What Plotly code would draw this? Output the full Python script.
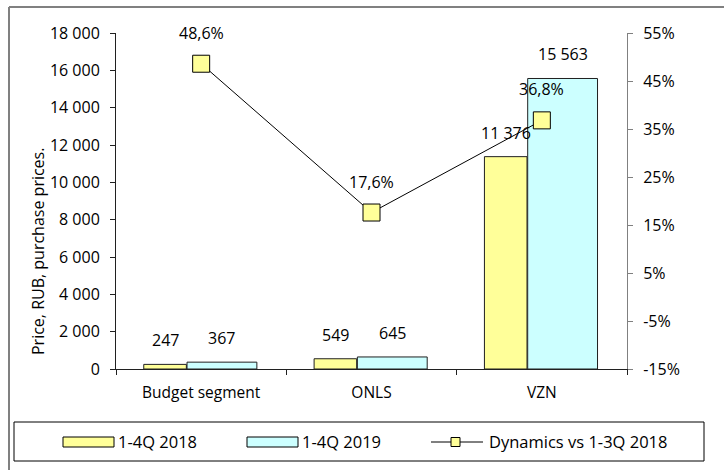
import plotly.graph_objects as go

categories = ["Budget segment", "ONLS", "VZN"]
price_2018 = [247, 549, 11376]
price_2019 = [367, 645, 15563]
dynamics_pct = [48.6, 17.6, 36.8]
left_ticks = [0, 2000, 4000, 6000, 8000, 10000, 12000, 14000, 16000, 18000]
right_ticks = [-15, -5, 5, 15, 25, 35, 45, 55]
series_names = ["1-4Q 2018", "1-4Q 2019", "Dynamics vs 1-3Q 2018"]

W, H = 724, 470
L, R, T, B = 116, 627, 33, 369
FONT = "Open Sans"

def px(xp):
    return (xp - L) / (R - L)

def py(yp):
    return (B - yp) / (B - T)

xs = list(range(len(categories)))
w18, o18 = 0.25, -0.337
w19, o19 = 0.41, -0.083

fig = go.Figure()
fig.add_trace(go.Bar(x=xs, y=price_2018, width=w18, offset=o18,
                     marker=dict(color="#FFFF99", line=dict(color="#202020", width=1)),
                     name=series_names[0], showlegend=False))
fig.add_trace(go.Bar(x=xs, y=price_2019, width=w19, offset=o19,
                     marker=dict(color="#CCFFFF", line=dict(color="#202020", width=1)),
                     name=series_names[1], showlegend=False))
fig.add_trace(go.Scatter(x=xs, y=dynamics_pct, yaxis="y2", mode="lines+markers",
                         line=dict(color="black", width=1),
                         marker=dict(symbol="square", size=17, color="#FFFF99",
                                     line=dict(color="black", width=1)),
                         name=series_names[2], showlegend=False))

ann = []
def fmt_int(v):
    return f"{v:,}".replace(",", " ")

for i in xs:
    ann.append(dict(x=i + o18 + w18 / 2, y=price_2018[i], xref="x", yref="y",
                    text=fmt_int(price_2018[i]), showarrow=False, yanchor="middle",
                    yshift=24, font=dict(family=FONT, size=16, color="black")))
    ann.append(dict(x=i + o19 + w19 / 2, y=price_2019[i], xref="x", yref="y",
                    text=fmt_int(price_2019[i]), showarrow=False, yanchor="middle",
                    yshift=24, font=dict(family=FONT, size=16, color="black")))
    ann.append(dict(x=i, y=dynamics_pct[i], xref="x", yref="y2",
                    text=f"{dynamics_pct[i]:.1f}%".replace(".", ","), showarrow=False,
                    yanchor="middle", yshift=31, font=dict(family=FONT, size=16, color="black")))

# y-axis title
ann.append(dict(x=px(38), y=py(252), xref="paper", yref="paper", text="Price, RUB, purchase prices.",
                textangle=-90, showarrow=False, xanchor="center", yanchor="middle",
                font=dict(family=FONT, size=16, color="black")))

# custom legend
shapes = []
shapes.append(dict(type="rect", xref="paper", yref="paper", x0=px(14), x1=px(704), y0=py(422), y1=py(461),
                   line=dict(color="black", width=1), fillcolor="white"))
shapes.append(dict(type="rect", xref="paper", yref="paper", x0=px(63), x1=px(114), y0=py(437), y1=py(447),
                   line=dict(color="black", width=1), fillcolor="#FFFF99"))
shapes.append(dict(type="rect", xref="paper", yref="paper", x0=px(247), x1=px(298), y0=py(437), y1=py(447),
                   line=dict(color="black", width=1), fillcolor="#CCFFFF"))
shapes.append(dict(type="line", xref="paper", yref="paper", x0=px(431), x1=px(483), y0=py(442), y1=py(442),
                   line=dict(color="black", width=1)))
shapes.append(dict(type="rect", xref="paper", yref="paper", x0=px(451), x1=px(460), y0=py(437.5), y1=py(446.5),
                   line=dict(color="black", width=1), fillcolor="#FFFF99"))
for xt, t in [(116, series_names[0]), (300, series_names[1]), (487, series_names[2])]:
    ann.append(dict(x=px(xt), y=py(442), xref="paper", yref="paper", text=t, showarrow=False,
                    xanchor="left", yanchor="middle", font=dict(family=FONT, size=16.5, color="black")))

# outer frame
shapes.append(dict(type="line", xref="paper", yref="paper", x0=px(9), x1=px(724), y0=py(7), y1=py(7),
                   line=dict(color="#808080", width=2)))
shapes.append(dict(type="line", xref="paper", yref="paper", x0=px(9), x1=px(9), y0=py(7), y1=py(470),
                   line=dict(color="#808080", width=2)))

fig.update_layout(
    width=W, height=H,
    margin=dict(l=L, r=W - R, t=T, b=H - B),
    paper_bgcolor="white", plot_bgcolor="white",
    separators=", ",
    showlegend=False,
    font=dict(family=FONT, size=16, color="black"),
    xaxis=dict(range=[-0.5, 2.5], tickvals=xs, ticktext=categories, ticks="",
               showline=True, linecolor="#202020", linewidth=1, showgrid=False, zeroline=False,
               tickfont=dict(family=FONT, size=15.5), ticklabelstandoff=9,
               minor=dict(tickvals=[-0.5, 0.5, 1.5, 2.5], ticks="outside", ticklen=5,
                          tickcolor="#202020", showgrid=False)),
    yaxis=dict(range=[0, 18000], tickvals=left_ticks, tickformat=",d", ticks="outside", ticklen=5,
               tickcolor="#202020", showline=True, linecolor="#202020", linewidth=1,
               showgrid=False, zeroline=False, tickfont=dict(family=FONT, size=16),
               ticklabelstandoff=7),
    yaxis2=dict(range=[-15, 55], tickvals=right_ticks, ticktext=[f"{v}%" for v in right_ticks],
                overlaying="y", side="right",
                ticks="outside", ticklen=5, tickcolor="#808080", showline=True, linecolor="#808080",
                linewidth=1, showgrid=False, zeroline=False, tickfont=dict(family=FONT, size=16),
                ticklabelstandoff=7),
    annotations=ann,
    shapes=shapes,
)

fig.write_html("out.html", config={"displayModeBar": False},
               post_script="document.body.style.margin='0';document.body.style.overflow='hidden';")
